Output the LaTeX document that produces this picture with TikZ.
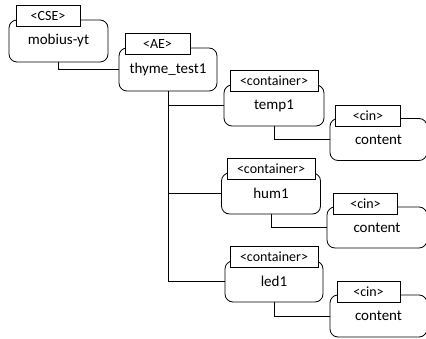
\documentclass[tikz,border=0pt]{standalone}
\usepackage{fontspec}
\setmainfont{Carlito}
\begin{document}
\begin{tikzpicture}[x=1pt,y=-1pt,
  res/.style={draw,line width=0.8pt,rounded corners=8pt,fill=white,inner sep=0pt,font=\fontsize{15}{18}\selectfont},
  tag/.style={draw,line width=0.8pt,fill=white,inner sep=0pt,minimum height=21pt,font=\fontsize{14}{16}\selectfont},
  link/.style={line width=0.8pt}]
\useasboundingbox (0,0) rectangle (426,339);
% resources
\node[res,minimum width=99pt,minimum height=42pt] (mob) at (58.5,41) {mobius-yt};
\node[res,minimum width=98pt,minimum height=43pt] (thy) at (168,69.5) {thyme\_test1};
\node[res,minimum width=100pt,minimum height=41pt] (temp) at (274,105.5) {temp1};
\node[res,minimum width=99pt,minimum height=41pt] (hum) at (271,193.5) {hum1};
\node[res,minimum width=98pt,minimum height=41pt] (led) at (274,281.5) {led1};
\node[res,minimum width=97pt,minimum height=42pt] (c1) at (378.5,139.5) {content};
\node[res,minimum width=100pt,minimum height=41pt] (c2) at (377,227.5) {content};
\node[res,minimum width=97pt,minimum height=42pt] (c3) at (378.5,316) {content};
% type tags
\node[tag,minimum width=64pt] (t0) at (48,16) {<CSE>};
\node[tag,minimum width=65pt] (t1) at (157.5,44) {<AE>};
\node[tag,minimum width=88pt] (t2) at (274,80.5) {<container>};
\node[tag,minimum width=88pt] (t3) at (271,168.5) {<container>};
\node[tag,minimum width=88pt] (t4) at (274,257) {<container>};
\node[tag,minimum width=65pt] (t5) at (368,115.5) {<cin>};
\node[tag,minimum width=64pt] (t6) at (365.5,203.5) {<cin>};
\node[tag,minimum width=63pt] (t7) at (368.5,291.5) {<cin>};
% connectors
\draw[link] (mob.south) |- (thy.west);
\draw[link] (thy.south) -- (thy.south |- led.west);
\draw[link] (thy.south |- temp.west) -- (temp.west);
\draw[link] (thy.south |- hum.west) -- (hum.west);
\draw[link] (thy.south |- led.west) -- (led.west);
\draw[link] (temp.south) |- (c1.west);
\draw[link] (hum.south) |- (c2.west);
\draw[link] (led.south) |- (c3.west);
\end{tikzpicture}
\end{document}
